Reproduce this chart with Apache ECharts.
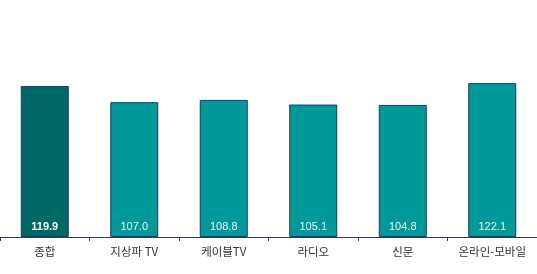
<!DOCTYPE html>
<html><head><meta charset="utf-8">
<script src="https://cdn.jsdelivr.net/npm/echarts@6/dist/echarts.min.js"></script>
<style>html,body{margin:0;padding:0;background:#fff}#c{width:537px;height:274px}</style>
</head><body><div id="c"></div>
<script>
const categories = ['종합', '지상파 TV', '케이블TV', '라디오', '신문', '온라인-모바일'];
const values = [119.9, 107.0, 108.8, 105.1, 104.8, 122.1];
const colors = ['#006864', '#009999', '#009999', '#009999', '#009999', '#009999'];
const chart = echarts.init(document.getElementById('c'));
chart.setOption({
  animation: false,
  grid: { left: -2, right: -10, top: 48, bottom: 37, containLabel: false },
  xAxis: {
    type: 'category', data: categories,
    axisLine: { lineStyle: { color: '#2b3d6b', width: 1 } },
    axisTick: { show: true, alignWithLabel: false, length: 4, lineStyle: { color: '#2b3d6b' } },
    axisLabel: { color: '#333', fontSize: 11.5, margin: 9, fontFamily: 'Noto Sans CJK KR' }
  },
  yAxis: { type: 'value', min: 0, max: 150, show: false, splitLine: { show: false } },
  series: [{
    type: 'bar', barWidth: 48,
    data: values.map((v, i) => ({
      value: v,
      itemStyle: { color: colors[i] },
      label: i === 0 ? { fontWeight: 'bold', color: '#fff' } : { fontWeight: 'normal', color: '#e8f4f4' }
    })),
    itemStyle: { borderColor: '#1f3566', borderWidth: 1 },
    label: {
      show: true, position: 'insideBottom', distance: 5,
      fontSize: 11, fontFamily: 'Liberation Sans Narrow, Arial Narrow, Liberation Sans',
      formatter: p => p.value.toFixed(1)
    }
  }]
});
</script></body></html>
